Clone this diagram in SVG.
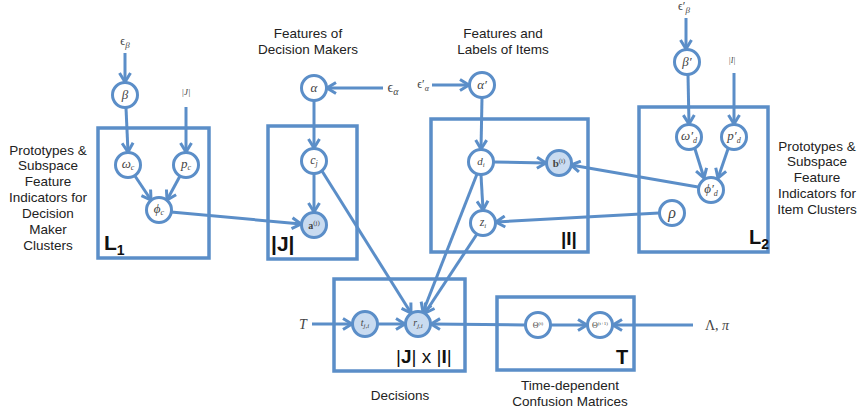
<svg xmlns="http://www.w3.org/2000/svg" width="858" height="417" viewBox="0 0 858 417">
<defs>
<style>
.box{fill:none;stroke:#5b8ec8;stroke-width:3.5}
.n circle{fill:#fff;stroke:#5b8ec8;stroke-width:3}
.n.obs circle{fill:#c9dbf0}
.e{stroke:#5b8ec8;stroke-width:3;fill:none;marker-end:url(#ah)}
.lbl{font-family:"Liberation Sans",Arial,sans-serif;font-size:13.5px;fill:#222;text-anchor:middle}
.big{font-family:"Liberation Sans",Arial,sans-serif;font-weight:bold;fill:#111}
.m{font-family:"Liberation Serif","DejaVu Serif",serif;font-style:italic;fill:#444;text-anchor:middle}
.up{font-style:normal}
.it{font-style:italic}
.b{font-weight:bold;font-style:normal}
</style>
<marker id="ah" markerUnits="userSpaceOnUse" viewBox="0 0 12 14" refX="10.5" refY="7" markerWidth="12" markerHeight="14" orient="auto">
<path d="M1.5,1.5 L10.5,7 L1.5,12.5" fill="none" stroke="#5b8ec8" stroke-width="3"/>
</marker>
</defs>
<rect width="858" height="417" fill="#fff"/>

<g id="plates">
<rect class="box" x="98" y="128" width="111" height="130"/>
<rect class="box" x="268" y="126" width="89" height="133"/>
<rect class="box" x="431" y="119" width="157" height="133"/>
<rect class="box" x="639" y="107" width="129" height="145"/>
<rect class="box" x="334" y="279" width="131" height="92"/>
<rect class="box" x="497" y="297" width="137" height="73"/>
<text class="big" x="104" y="250" font-size="21">L<tspan font-size="14" dy="5">1</tspan></text>
<text class="big" x="271" y="251" font-size="21">|J|</text>
<text class="big" x="561" y="245" font-size="19">|I|</text>
<text class="big" x="749" y="244" font-size="20">L<tspan font-size="14" dy="5">2</tspan></text>
<text x="396" y="363" font-family="Liberation Sans,Arial,sans-serif" font-size="19" fill="#111">|<tspan font-weight="bold">J</tspan>| x |<tspan font-weight="bold">I</tspan>|</text>
<text class="big" x="616" y="364" font-size="20">T</text>
</g>

<g id="connectors">
<path class="e" d="M125,53 L125,82"/>
<path class="e" d="M126,108 L128,152"/>
<path class="e" d="M186,107 L186,152"/>
<path class="e" d="M135,176 L151,200"/>
<path class="e" d="M180,176 L167,200"/>
<path class="e" d="M171,212 L301,224"/>
<path class="e" d="M383,88 L327,88"/>
<path class="e" d="M314,101 L314,148"/>
<path class="e" d="M314,174 L314,212"/>
<path class="e" d="M322,171 L411,313"/>
<path class="e" d="M432,85 L469,85"/>
<path class="e" d="M482,98 L481,149"/>
<path class="e" d="M494,162 L546,163"/>
<path class="e" d="M481,175 L483,210"/>
<path class="e" d="M477,174 L423,312"/>
<path class="e" d="M477,234 L425,313"/>
<path class="e" d="M698,187 L571,165"/>
<path class="e" d="M659,213 L496,222"/>
<path class="e" d="M686,18 L686,49"/>
<path class="e" d="M688,75 L689,124"/>
<path class="e" d="M734,73 L734,124"/>
<path class="e" d="M695,149 L704,178"/>
<path class="e" d="M728,149 L718,178"/>
<path class="e" d="M312,324 L352,324"/>
<path class="e" d="M378,324 L405,324"/>
<path class="e" d="M525,325 L431,324"/>
<path class="e" d="M551,325 L587,325"/>
<path class="e" d="M693,325 L613,325"/>
</g>

<g id="beta" class="n"><circle cx="125" cy="95" r="12.5"/><text class="m" x="125" y="99" font-size="13">β</text></g>
<g id="omega_c" class="n"><circle cx="128" cy="165" r="12.5"/><text class="m" x="128" y="168" font-size="13">ω<tspan font-size="8" dy="2">c</tspan></text></g>
<g id="p_c" class="n"><circle cx="186" cy="165" r="12.5"/><text class="m" x="186" y="168" font-size="13">p<tspan font-size="8" dy="2">c</tspan></text></g>
<g id="phi_c" class="n"><circle cx="159" cy="210" r="12.5"/><text class="m" x="159" y="213" font-size="13">ϕ<tspan font-size="8" dy="2">c</tspan></text></g>
<g id="alpha" class="n"><circle cx="314" cy="88" r="12.5"/><text class="m" x="314" y="92" font-size="13">α</text></g>
<g id="c_j" class="n"><circle cx="314" cy="161" r="12.5"/><text class="m" x="314" y="164" font-size="12">c<tspan font-size="8" dy="2">j</tspan></text></g>
<g id="a_j" class="n obs"><circle cx="314" cy="225" r="12.5"/><text class="m" x="314" y="229" font-size="10"><tspan class="b">a</tspan><tspan class="up" font-size="7" dy="-4">(j)</tspan></text></g>
<g id="alpha_p" class="n"><circle cx="482" cy="85" r="12.5"/><text class="m" x="482" y="89" font-size="13">α′</text></g>
<g id="d_i" class="n"><circle cx="481" cy="162" r="12.5"/><text class="m" x="481" y="165" font-size="11">d<tspan font-size="7" dy="2">i</tspan></text></g>
<g id="b_i" class="n obs"><circle cx="559" cy="163" r="12.5"/><text class="m" x="559" y="167" font-size="11"><tspan class="b">b</tspan><tspan class="up" font-size="7" dy="-4">(i)</tspan></text></g>
<g id="z_i" class="n"><circle cx="483" cy="223" r="12.5"/><text class="m" x="483" y="226" font-size="12">z<tspan font-size="7" dy="2">i</tspan></text></g>
<g id="beta_p" class="n"><circle cx="687" cy="62" r="12.5"/><text class="m" x="687" y="66" font-size="13">β′</text></g>
<g id="omega_d" class="n"><circle cx="689" cy="137" r="12.5"/><text class="m" x="689" y="140" font-size="13">ω′<tspan font-size="8" dy="3">d</tspan></text></g>
<g id="p_d" class="n"><circle cx="734" cy="137" r="12.5"/><text class="m" x="734" y="140" font-size="13">p′<tspan font-size="8" dy="3">d</tspan></text></g>
<g id="phi_d" class="n"><circle cx="711" cy="190" r="12.5"/><text class="m" x="711" y="193" font-size="13">ϕ′<tspan font-size="8" dy="3">d</tspan></text></g>
<g id="rho" class="n"><circle cx="672" cy="213" r="12.5"/><text class="m" x="672" y="218" font-size="16">ρ</text></g>
<g id="t_ji" class="n obs"><circle cx="365" cy="324" r="12.5"/><text class="m" x="365" y="326" font-size="10">t<tspan font-size="7" dy="2">j,i</tspan></text></g>
<g id="r_ji" class="n obs"><circle cx="418" cy="324" r="12.5"/><text class="m" x="418" y="326" font-size="10">r<tspan font-size="7" dy="2">j,i</tspan></text></g>
<g id="theta_t" class="n"><circle cx="538" cy="325" r="12.5"/><text class="m up" x="538" y="328" font-size="8">Θ<tspan font-size="5" dy="-3">(t)</tspan></text></g>
<g id="theta_t1" class="n"><circle cx="600" cy="325" r="12.5"/><text class="m up" x="600" y="328" font-size="8">Θ<tspan font-size="5" dy="-3">(t+1)</tspan></text></g>

<g id="labels">
<text class="m up" x="125" y="45" font-size="12">ϵ<tspan class="it" font-size="9" dy="3">β</tspan></text>
<text class="m" x="186" y="95" font-size="9">|J|</text>
<text class="m up" x="393" y="92" font-size="14">ϵ<tspan class="it" font-size="10" dy="3">α</tspan></text>
<text class="m up" x="423" y="88" font-size="12">ϵ′<tspan class="it" font-size="8" dy="3">α</tspan></text>
<text class="m up" x="684" y="10" font-size="12">ϵ′<tspan class="it" font-size="9" dy="3">β</tspan></text>
<text class="m" x="732" y="63" font-size="8">|I|</text>
<text class="m" x="303" y="329" font-size="14">T</text>
<text class="m up" x="717" y="330" font-size="14">Λ, <tspan class="it">π</tspan></text>
<text class="lbl" x="308" y="38">Features of</text>
<text class="lbl" x="308" y="54">Decision Makers</text>
<text class="lbl" x="503" y="38">Features and</text>
<text class="lbl" x="503" y="54">Labels of Items</text>
<text class="lbl" x="48" y="155">Prototypes &amp;</text>
<text class="lbl" x="48" y="170">Subspace</text>
<text class="lbl" x="48" y="186">Feature</text>
<text class="lbl" x="48" y="202">Indicators for</text>
<text class="lbl" x="48" y="218">Decision</text>
<text class="lbl" x="48" y="234">Maker</text>
<text class="lbl" x="48" y="250">Clusters</text>
<text class="lbl" x="817" y="151">Prototypes &amp;</text>
<text class="lbl" x="817" y="166">Subspace</text>
<text class="lbl" x="817" y="182">Feature</text>
<text class="lbl" x="817" y="198">Indicators for</text>
<text class="lbl" x="817" y="214">Item Clusters</text>
<text class="lbl" x="400" y="400">Decisions</text>
<text class="lbl" x="570" y="390">Time-dependent</text>
<text class="lbl" x="570" y="406">Confusion Matrices</text>
</g>
</svg>
